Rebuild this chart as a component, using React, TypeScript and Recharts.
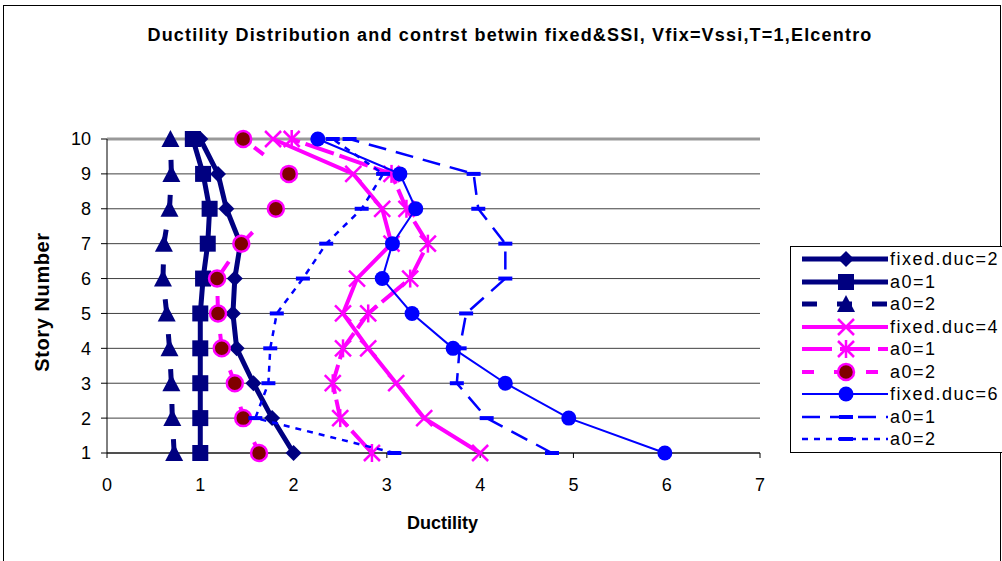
import { ScatterChart, Scatter, XAxis, YAxis, CartesianGrid, Legend, ReferenceLine } from 'recharts';

// story numbers (y) and ductility values (x)
const stories = [1, 2, 3, 4, 5, 6, 7, 8, 9, 10];
const xTicks = [0, 1, 2, 3, 4, 5, 6, 7];
const yTicks = [1, 2, 3, 4, 5, 6, 7, 8, 9, 10];

const fixedDuc2 = [2.0, 1.77, 1.57, 1.39, 1.35, 1.37, 1.43, 1.28, 1.19, 1.0];
const duc2A01 = [1.0, 1.0, 1.0, 1.0, 1.0, 1.03, 1.08, 1.1, 1.03, 0.92];
const duc2A02 = [0.72, 0.7, 0.69, 0.67, 0.64, 0.6, 0.61, 0.67, 0.69, 0.68];
const fixedDuc4 = [4.0, 3.4, 3.1, 2.8, 2.53, 2.68, 3.05, 2.95, 2.64, 1.78];
const duc4A01 = [2.84, 2.5, 2.42, 2.53, 2.8, 3.25, 3.44, 3.21, 3.05, 1.98];
const duc4A02 = [1.63, 1.46, 1.37, 1.23, 1.19, 1.18, 1.44, 1.81, 1.95, 1.46];
const fixedDuc6 = [5.98, 4.95, 4.27, 3.71, 3.27, 2.95, 3.06, 3.31, 3.14, 2.26];
const duc6A01 = [4.77, 4.07, 3.75, 3.78, 3.85, 4.27, 4.27, 3.98, 3.93, 2.6];
const duc6A02 = [3.08, 1.59, 1.73, 1.75, 1.82, 2.1, 2.35, 2.73, 2.96, 2.42];

const NAVY = '#000080';
const MAGENTA = '#FF00FF';
const BLUE = '#0000FF';
const FONT = 'Liberation Sans, Arial, sans-serif';

const diamond = (color: string) => (p: any) => (
  <polygon
    points={`${p.cx},${p.cy - 8} ${p.cx + 8},${p.cy} ${p.cx},${p.cy + 8} ${p.cx - 8},${p.cy}`}
    fill={color}
  />
);
const square = (color: string) => (p: any) => (
  <rect x={p.cx - 8} y={p.cy - 8} width={16} height={16} fill={color} />
);
const triangle = (color: string) => (p: any) => (
  <polygon points={`${p.cx},${p.cy - 9} ${p.cx + 9},${p.cy + 8} ${p.cx - 9},${p.cy + 8}`} fill={color} />
);
const cross = (color: string) => (p: any) => (
  <g stroke={color} strokeWidth={2.5}>
    <line x1={p.cx - 8} y1={p.cy - 8} x2={p.cx + 8} y2={p.cy + 8} />
    <line x1={p.cx - 8} y1={p.cy + 8} x2={p.cx + 8} y2={p.cy - 8} />
  </g>
);
const star = (color: string) => (p: any) => (
  <g stroke={color} strokeWidth={2.5}>
    <line x1={p.cx - 8} y1={p.cy - 8} x2={p.cx + 8} y2={p.cy + 8} />
    <line x1={p.cx - 8} y1={p.cy + 8} x2={p.cx + 8} y2={p.cy - 8} />
    <line x1={p.cx} y1={p.cy - 9} x2={p.cx} y2={p.cy + 9} />
  </g>
);
const ringDot = (color: string) => (p: any) => (
  <circle cx={p.cx} cy={p.cy} r={8} fill="#800000" stroke={color} strokeWidth={2.5} />
);
const dot = (color: string) => (p: any) => <circle cx={p.cx} cy={p.cy} r={7.5} fill={color} />;
const dash = (color: string) => (p: any) => (
  <rect x={p.cx - 7} y={p.cy - 2} width={14} height={4} fill={color} />
);

const series = [
  { name: 'fixed.duc=2', values: fixedDuc2, color: NAVY, width: 5, dashArr: undefined, legendDash: undefined, shape: diamond(NAVY) },
  { name: 'a0=1', values: duc2A01, color: NAVY, width: 5, dashArr: undefined, legendDash: undefined, shape: square(NAVY) },
  { name: 'a0=2', values: duc2A02, color: NAVY, width: 5, dashArr: '14 21', legendDash: '15 20', shape: triangle(NAVY) },
  { name: 'fixed.duc=4', values: fixedDuc4, color: MAGENTA, width: 4, dashArr: undefined, legendDash: undefined, shape: cross(MAGENTA) },
  { name: 'a0=1', values: duc4A01, color: MAGENTA, width: 4, dashArr: '30 6', legendDash: '30 8', shape: star(MAGENTA) },
  { name: 'a0=2', values: duc4A02, color: MAGENTA, width: 4, dashArr: '12 26', legendDash: '12 20', shape: ringDot(MAGENTA) },
  { name: 'fixed.duc=6', values: fixedDuc6, color: BLUE, width: 2, dashArr: undefined, legendDash: undefined, shape: dot(BLUE) },
  { name: 'a0=1', values: duc6A01, color: BLUE, width: 2.5, dashArr: '18 10', legendDash: '18 10', shape: dash(BLUE) },
  { name: 'a0=2', values: duc6A02, color: BLUE, width: 2.5, dashArr: '6 6', legendDash: '6 6', shape: dash(BLUE) },
];

const LegendBox = () => (
  <div
    style={{
      border: '1px solid #000',
      width: 230,
      height: 207,
      boxSizing: 'border-box',
      paddingTop: 1,
      fontFamily: FONT,
      fontSize: 18,
      letterSpacing: 1.5,
      background: '#fff',
    }}
  >
    {series.map((s, i) => (
      <div key={i} style={{ display: 'flex', alignItems: 'center', height: 22.5 }}>
        <svg width={99} height={22} style={{ flex: 'none' }}>
          <line x1={11} y1={11} x2={97} y2={11} stroke={s.color} strokeWidth={s.width} strokeDasharray={s.legendDash} />
          {s.shape({ cx: 55, cy: 11 })}
        </svg>
        <span style={{ lineHeight: '22px' }}>{s.name}</span>
      </div>
    ))}
  </div>
);

export default function App() {
  return (
    <div
      style={{
        position: 'absolute',
        left: 0,
        top: 0,
        width: 1002,
        height: 561,
        overflow: 'hidden',
        background: '#fff',
      }}
    >
      <div
        style={{
          position: 'absolute',
          left: 3,
          top: 5,
          width: 996,
          height: 600,
          border: '1px solid #000',
        }}
      />
      <div
        style={{
          position: 'absolute',
          left: 0,
          top: 25,
          width: 1020,
          textAlign: 'center',
          fontFamily: FONT,
          fontWeight: 'bold',
          fontSize: 18,
          letterSpacing: 1.2,
        }}
      >
        Ductility Distribution and contrst betwin fixed&amp;SSI, Vfix=Vssi,T=1,Elcentro
      </div>
      <div style={{ position: 'absolute', left: 0, top: 0 }}>
        <ScatterChart
          width={1002}
          height={561}
          margin={{ top: 139, right: 242, bottom: 68, left: 32 }}
        >
          <CartesianGrid vertical={false} stroke="#404040" strokeOpacity={1} />
          <ReferenceLine y={10} stroke="#999" strokeWidth={3} />
          <XAxis
            type="number"
            dataKey="x"
            domain={[0, 7]}
            ticks={xTicks}
            height={40}
            stroke="#000"
            tickSize={5}
            tickMargin={20}
            tick={{ fill: '#000', fontSize: 18, fontFamily: FONT }}
            label={{
              value: 'Ductility',
              position: 'bottom',
              offset: 23,
              dx: 9,
              style: { fontFamily: FONT, fontSize: 18, fontWeight: 'bold', fill: '#000' },
            }}
          />
          <YAxis
            type="number"
            dataKey="y"
            domain={[1, 10]}
            ticks={yTicks}
            width={75}
            stroke="#000"
            tickSize={6}
            tickMargin={10}
            tick={{ fill: '#000', fontSize: 18, fontFamily: FONT }}
            label={{
              value: 'Story Number',
              angle: -90,
              position: 'insideLeft',
              offset: 10,
              dy: 6,
              style: { textAnchor: 'middle', fontFamily: FONT, fontSize: 20, fontWeight: 'bold', fill: '#000', letterSpacing: 0.6 },
            }}
          />
          <Legend
            layout="horizontal"
            align="center"
            verticalAlign="middle"
            wrapperStyle={{ left: 790, top: 246, width: 230 }}
            content={() => <LegendBox />}
          />
          {series.map((s, i) => (
            <Scatter
              key={i}
              name={s.name}
              data={stories.map((st, j) => ({ x: s.values[j], y: st }))}
              fill={s.color}
              line={{ stroke: s.color, strokeWidth: s.width, strokeDasharray: s.dashArr }}
              shape={s.shape}
              isAnimationActive={false}
            />
          ))}
        </ScatterChart>
      </div>
    </div>
  );
}
